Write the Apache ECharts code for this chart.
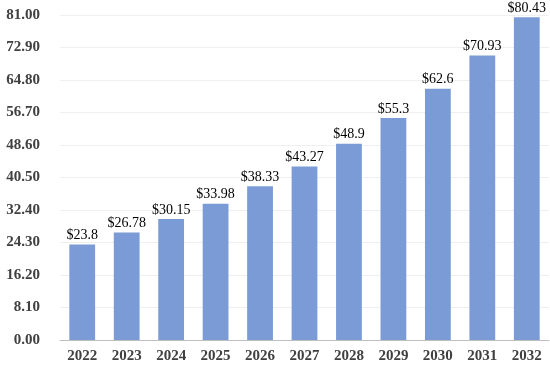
<!DOCTYPE html>
<html><head><meta charset="utf-8">
<script src="https://cdn.jsdelivr.net/npm/echarts@6/dist/echarts.min.js"></script>
<style>html,body{margin:0;padding:0;background:#fff}#c{width:550px;height:369px}</style>
</head><body><div id="c"></div>
<script>
const categories = ['2022','2023','2024','2025','2026','2027','2028','2029','2030','2031','2032'];
const values = [23.8, 26.78, 30.15, 33.98, 38.33, 43.27, 48.9, 55.3, 62.6, 70.93, 80.43];
const yMin = 0, yMax = 81, yStep = 8.1;
const chart = echarts.init(document.getElementById('c'));
chart.setOption({
  animation: false,
  grid: {left: 60, right: 1, top: 15, bottom: 29, containLabel: false},
  xAxis: {
    type: 'category', data: categories,
    axisLine: {lineStyle: {color: '#bfbfbf', width: 1}},
    axisTick: {show: false},
    axisLabel: {color: '#404040', fontFamily: 'Liberation Serif', fontWeight: 'bold', fontSize: 15, margin: 9}
  },
  yAxis: {
    type: 'value', min: yMin, max: yMax, interval: yStep,
    axisLine: {show: false}, axisTick: {show: false},
    splitLine: {lineStyle: {color: '#efefef', width: 1}},
    axisLabel: {color: '#404040', fontFamily: 'Liberation Serif', fontWeight: 'bold', fontSize: 15, margin: 20,
      formatter: v => v.toFixed(2)}
  },
  series: [{
    type: 'bar', data: values, barCategoryGap: '42%',
    itemStyle: {color: '#7a9bd6'},
    label: {show: true, position: 'top', distance: 2, color: '#000', fontFamily: 'Liberation Serif', fontSize: 14,
      formatter: p => '$' + p.value}
  }]
});
</script></body></html>
